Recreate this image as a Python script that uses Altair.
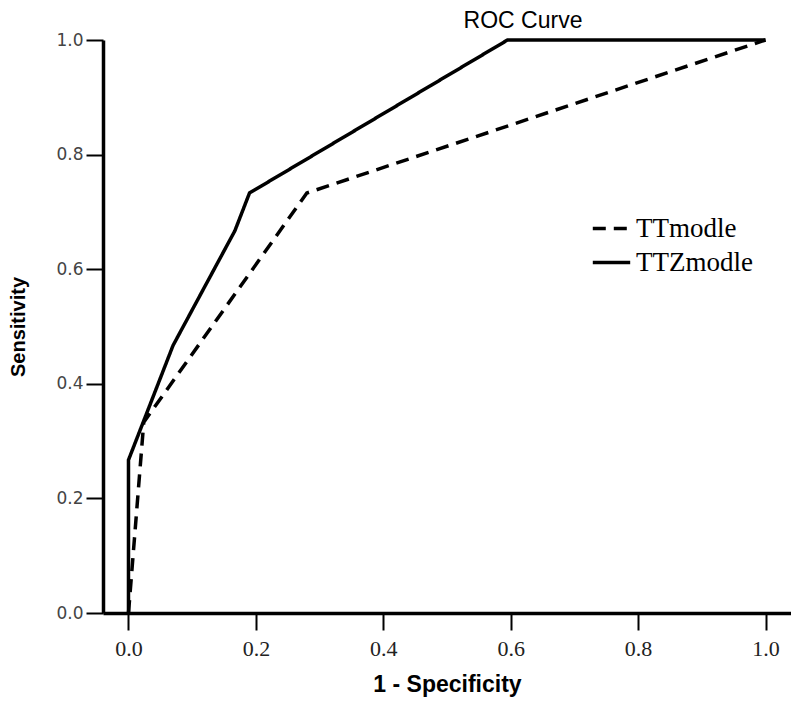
import altair as alt
import pandas as pd

# Data
tt_x = [0.0, 0.024, 0.28, 1.0]
tt_y = [0.0, 0.333, 0.733, 1.0]
ttz_x = [0.0, 0.0, 0.07, 0.167, 0.19, 0.595, 1.0]
ttz_y = [0.0, 0.267, 0.467, 0.667, 0.733, 1.0, 1.0]
series = ["TTmodle", "TTZmodle"]
ticks = [0.0, 0.2, 0.4, 0.6, 0.8, 1.0]

rows = []
for i, (x, y) in enumerate(zip(tt_x, tt_y)):
    rows.append({"fpr": x, "tpr": y, "model": series[0], "ord": i})
for i, (x, y) in enumerate(zip(ttz_x, ttz_y)):
    rows.append({"fpr": x, "tpr": y, "model": series[1], "ord": i})
df = pd.DataFrame(rows)

chart = alt.Chart(df).mark_line(strokeWidth=3.5, color="black").encode(
    x=alt.X("fpr:Q", title="1 - Specificity",
            scale=alt.Scale(domain=[-0.04, 1.04], nice=False, zero=False),
            axis=alt.Axis(values=ticks, format=".1f", grid=False,
                          domainColor="black", domainWidth=3.5,
                          tickColor="black", tickWidth=2, tickSize=17,
                          labelFont="Liberation Serif", labelFontSize=22,
                          labelColor="#222", labelPadding=8,
                          titleFont="Liberation Sans", titleFontSize=23,
                          titleFontWeight="bold", titlePadding=14,
                          titleColor="black")),
    y=alt.Y("tpr:Q", title="Sensitivity",
            scale=alt.Scale(domain=[0, 1], nice=False),
            axis=alt.Axis(values=ticks, format=".1f", grid=False,
                          domainColor="black", domainWidth=3.5,
                          tickColor="black", tickWidth=2, tickSize=17,
                          labelFont="DejaVu Sans", labelFontSize=17,
                          labelColor="#444", labelPadding=3,
                          titleFont="Liberation Sans", titleFontSize=20,
                          titleFontWeight="bold", titlePadding=27,
                          titleColor="black")),
    strokeDash=alt.StrokeDash("model:N",
        scale=alt.Scale(domain=series, range=[[13, 8], [1, 0]]),
        legend=alt.Legend(title=None, orient="none", legendX=488, legendY=168,
                          symbolType="stroke", symbolStrokeWidth=3.5,
                          symbolSize=1400, symbolStrokeColor="black",
                          labelFont="Liberation Serif", labelFontSize=27,
                          labelColor="black", labelLimit=300,
                          rowPadding=-7, labelOffset=4)),
    order="ord:Q",
).properties(
    width=688,
    height=573,
    title=alt.TitleParams(text="ROC Curve", anchor="middle", dx=76, offset=-2,
                          font="Liberation Sans", fontSize=23,
                          fontWeight="normal", color="black"),
    autosize=alt.AutoSizeParams(type="none"),
    padding={"left": 95, "top": 32, "right": 0, "bottom": 84},
).configure_view(stroke=None)

chart.save("out.html", embed_options={"renderer": "svg", "actions": False})
